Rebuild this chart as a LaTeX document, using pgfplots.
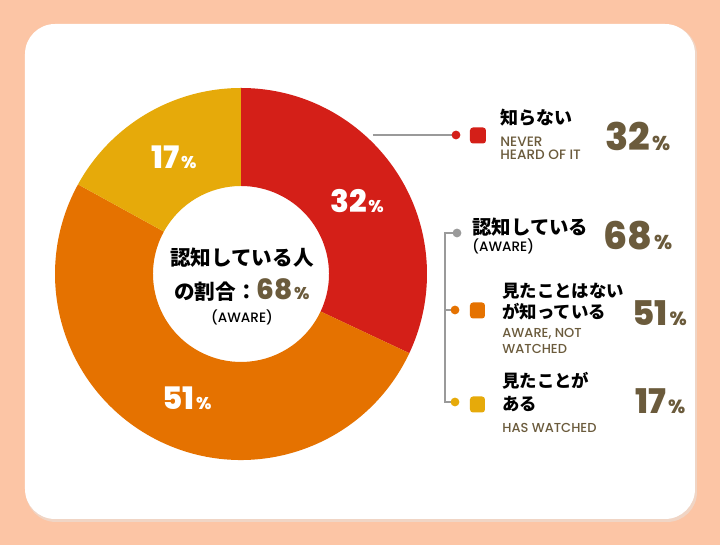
\documentclass[border=0pt]{standalone}
\usepackage{pgfplots}
\pgfplotsset{compat=1.18}
\usepackage{pgfplotstable}
\usepackage{fontspec}
\setmainfont{Poppins}
\newfontfamily\pop{Poppins}[BoldFont={Poppins ExtraBold}]
\newfontfamily\popm{Poppins Medium}
\newfontfamily\jp{Noto Sans CJK JP}
\definecolor{bgpeach}{HTML}{FCC5A5}
\definecolor{cred}{HTML}{D41F18}
\definecolor{corange}{HTML}{E57200}
\definecolor{cyellow}{HTML}{E6AA0A}
\definecolor{cbrown}{HTML}{6B5B3C}
\definecolor{cgray}{HTML}{9A9A9A}
\newcommand\donutwedge[3]{\fill[#3] ([shift={(#1:93pt)}]axis cs:241,271) arc[start angle=#1,end angle=#2,radius=93pt] -- ([shift={(#2:44pt)}]axis cs:241,271) arc[start angle=#2,end angle=#1,radius=44pt] -- cycle;}
\newcommand\bignum[3]{{\pop\bfseries\fontsize{#2}{#2}\selectfont #1\kern0.05em\fontsize{#3}{#3}\selectfont\%}}
\pgfplotstableread{
label value
never 32
awarenot 51
watched 17
}\piedata
\begin{document}
\begin{tikzpicture}
\pgfplotstablegetelem{0}{value}\of\piedata \pgfmathsetmacro\aA{90-3.6*\pgfplotsretval}
\pgfplotstablegetelem{1}{value}\of\piedata \pgfmathsetmacro\aB{\aA-3.6*\pgfplotsretval}
\pgfplotstablegetelem{2}{value}\of\piedata \pgfmathsetmacro\aC{\aB-3.6*\pgfplotsretval}
\begin{axis}[hide axis, scale only axis, x=0.5pt, y=0.5pt, xmin=0, xmax=720, ymin=0, ymax=545, clip=false]
% background and card
\fill[bgpeach] (axis cs:0,0) rectangle (axis cs:720,545);
\fill[black!10, opacity=0.5, rounded corners=15pt] (axis cs:26,23) rectangle (axis cs:697,520);
\fill[white, rounded corners=15pt] (axis cs:25,26) rectangle (axis cs:695,521);
% donut
\donutwedge{90}{\aA}{cred}
\donutwedge{\aA}{\aB}{corange}
\donutwedge{\aB}{\aC}{cyellow}
% donut labels
\node[white] at (axis cs:357,344) {\bignum{32}{15.5}{8.5}};
\node[white] at (axis cs:174,388) {\bignum{17}{15.5}{8.5}};
\node[white] at (axis cs:187,147) {\bignum{51}{15.5}{8.5}};
% center text
\node at (axis cs:242,287) {\jp\bfseries\fontsize{10.3}{12}\selectfont 認知している人};
\node at (axis cs:242,255) {\jp\bfseries\fontsize{10.3}{12}\selectfont の割合：\textcolor{cbrown}{\bignum{68}{14}{8.5}}};
\node at (axis cs:242,228) {\popm\fontsize{6.8}{8}\selectfont (AWARE)};
% connector for red
\draw[cgray, line width=0.6pt] (axis cs:373,410) -- (axis cs:456,410);
\fill[cred] (axis cs:456,410) circle[radius=2.2pt];
\fill[cred, rounded corners=1.5pt] (axis cs:470,401.5) rectangle (axis cs:486,417.5);
\node[anchor=west, inner sep=0pt] at (axis cs:500,427) {\jp\bfseries\fontsize{9}{10}\selectfont 知らない};
\node[anchor=west, inner sep=0pt, text=cbrown] at (axis cs:500,403) {\popm\fontsize{6.8}{8}\selectfont NEVER};
\node[anchor=west, inner sep=0pt, text=cbrown] at (axis cs:500,390) {\popm\fontsize{6.8}{8}\selectfont HEARD OF IT};
\node[anchor=west, inner sep=0pt, text=cbrown] at (axis cs:605,409) {\bignum{32}{19}{10}};
% bracket
\draw[cgray, line width=0.6pt] (axis cs:457,312) -- (axis cs:445,312) -- (axis cs:445,143) -- (axis cs:455,143);
\draw[cgray, line width=0.6pt] (axis cs:445,235) -- (axis cs:455,235);
\fill[cgray] (axis cs:457,312) circle[radius=2.2pt];
\fill[corange] (axis cs:455,235) circle[radius=2.2pt];
\fill[cyellow] (axis cs:455,143) circle[radius=2.2pt];
% aware
\node[anchor=west, inner sep=0pt] at (axis cs:472,318) {\jp\bfseries\fontsize{9.7}{11}\selectfont 認知している};
\node[anchor=west, inner sep=0pt] at (axis cs:472,299) {\popm\fontsize{6.8}{8}\selectfont (AWARE)};
\node[anchor=west, inner sep=0pt, text=cbrown] at (axis cs:603,309) {\bignum{68}{19}{10}};
% aware not watched
\fill[corange, rounded corners=1.5pt] (axis cs:470,226.5) rectangle (axis cs:485,242.5);
\node[anchor=west, inner sep=0pt] at (axis cs:502,254) {\jp\bfseries\fontsize{8.7}{10}\selectfont 見たことはない};
\node[anchor=west, inner sep=0pt] at (axis cs:502,233) {\jp\bfseries\fontsize{8.7}{10}\selectfont が知っている};
\node[anchor=west, inner sep=0pt, text=cbrown] at (axis cs:502,211) {\popm\fontsize{6.5}{8}\selectfont AWARE, NOT};
\node[anchor=west, inner sep=0pt, text=cbrown] at (axis cs:502,196) {\popm\fontsize{6.5}{8}\selectfont WATCHED};
\node[anchor=west, inner sep=0pt, text=cbrown] at (axis cs:632,232) {\bignum{51}{17}{9.5}};
% watched
\fill[cyellow, rounded corners=1.5pt] (axis cs:470,132.5) rectangle (axis cs:485,148.5);
\node[anchor=west, inner sep=0pt] at (axis cs:502,164) {\jp\bfseries\fontsize{8.7}{10}\selectfont 見たことが};
\node[anchor=west, inner sep=0pt] at (axis cs:502,141) {\jp\bfseries\fontsize{8.7}{10}\selectfont ある};
\node[anchor=west, inner sep=0pt, text=cbrown] at (axis cs:502,117) {\popm\fontsize{6.5}{8}\selectfont HAS WATCHED};
\node[anchor=west, inner sep=0pt, text=cbrown] at (axis cs:635,144) {\bignum{17}{17}{9.5}};
\end{axis}
\end{tikzpicture}
\end{document}
